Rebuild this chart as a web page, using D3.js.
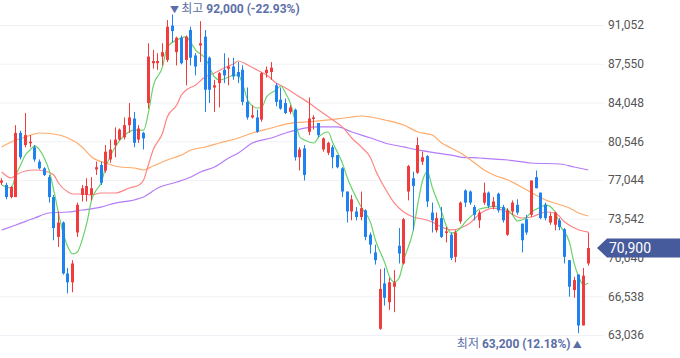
<!DOCTYPE html>
<html>
<head>
<meta charset="utf-8">
<script src="https://cdn.jsdelivr.net/npm/d3@7"></script>
<style>
  body { margin: 0; background: #fff; }
  svg { display: block; font-family: Roboto, "Noto Sans CJK KR", sans-serif; }
</style>
</head>
<body>
<div id="chart"></div>
<script>
// daily candles, oldest first
const opens = [76800,76600,75500,75500,81300,80200,80400,80000,78700,78100,
  77300,75500,71900,73200,68600,67800,72300,75700,75700,75700,
  78000,78400,77900,78900,80200,80700,80900,82000,82600,80700,
  81300,84000,87600,87600,88200,87900,91000,88600,89900,87900,
  90600,88300,89200,90000,88100,85400,85800,87000,87100,87300,
  86800,87000,84100,82700,82700,82500,86700,86800,85600,84300,
  84000,83200,83400,79100,79900,81400,82600,82200,79800,79500,
  80000,79300,78100,76000,74200,74200,73700,74300,72100,70500,
  63600,67700,66000,67400,71100,69500,76000,77200,77700,78700,
  79200,74100,72500,73600,72300,72100,70100,73300,76100,76000,
  74600,73400,75000,75900,74600,75800,74600,72100,74200,74800,
  73100,73500,73900,77300,75900,74800,73200,73000,73400,72600,
  69800,67100,68500,63900,69500];
const highs = [77200,76800,76500,82000,81500,83100,81100,80200,78900,78200,
  77500,75700,74200,73300,69100,69800,75000,76600,77200,77300,
  78700,78700,80200,80700,81800,81700,82700,84000,83200,82000,
  81400,89400,88800,88500,89400,91500,92000,90000,90100,90100,
  90900,88500,91400,90600,88200,86100,86800,88500,88100,88100,
  87700,87400,85400,83800,83400,86800,87300,87700,85800,85400,
  84400,83800,83500,80000,80200,84500,82900,82200,80900,80500,
  80200,79300,78200,76000,75700,74600,76000,74400,72300,71200,
  69000,69100,68200,68900,72700,73600,78400,77800,80900,79600,
  79300,75000,74100,74600,72800,72300,72500,75100,76200,76100,
  74800,74300,76800,76000,75500,75900,74800,74500,75200,75300,
  73100,73900,77000,77900,75900,75000,74100,74200,73600,72700,
  69800,68300,68500,69100,72300];
const lows = [76600,75300,75400,75500,78900,80000,80000,78700,78000,77400,
  75000,71600,71000,68500,66800,66900,71900,75100,75100,75200,
  77500,76600,77700,78600,79100,80600,80700,81300,80000,80400,
  79800,83500,87100,87000,87400,87700,89500,87400,87500,85600,
  87400,86500,87700,83200,84000,83200,83600,85800,85600,86100,
  85800,83800,82500,82600,81300,82300,86300,86100,83700,83400,
  83000,83000,78800,77900,77000,81100,81600,80900,79600,79300,
  78100,78100,75500,73200,73400,73400,73400,71600,70400,69400,
  63500,65700,65300,65100,69500,69400,75200,72500,77600,78400,
  74600,72300,72300,71800,71400,69800,69600,73100,74600,74800,
  73400,72700,74800,74500,74400,74100,73200,72000,73900,73900,
  70500,72100,73700,76300,73500,73400,73000,72500,72500,69500,
  66500,66400,63200,63900,69300];
const closes = [77000,75500,76400,81300,79100,81100,80500,78900,78100,77500,
  75500,72700,73200,68600,67800,69500,74800,76300,76500,76300,
  78200,76800,79600,79800,80700,81600,82000,82700,80400,81700,
  80800,88200,87800,87800,88600,90900,90500,89900,87600,90000,
  88100,87300,89400,85200,85200,85600,86700,86500,87300,86400,
  86400,84100,82700,82900,81400,86700,87000,87200,84100,83500,
  83100,83600,79100,79800,77500,82600,82700,81100,80800,80400,
  79100,78200,76000,74200,75300,73700,74500,71900,71200,69800,
  67200,66400,67800,67800,70400,73500,78300,76500,80200,79100,
  75100,73400,73600,71900,72400,70000,72300,75000,75000,75000,
  73900,74100,75900,74700,75100,74300,73400,74300,75000,74100,
  71600,72300,77000,76300,73600,73600,73800,74100,72800,70100,
  67400,68000,63900,68400,70900];

// moving averages: [candle index, price]
const ma5 = [[0,76600],[1,76410],[2,76320],[3,77500],[4,78400],[5,79300],[6,79760],[7,80120],
  [8,79760],[9,79030],[10,77950],[11,76140],[12,74060],[13,72250],[14,70990],[15,70360],
  [16,70540],[17,71620],[18,73160],[19,75240],[20,76140],[21,76770],[22,78220],[24,80030],
  [26,81110],[28,81560],[30,81560],[31,83100],[32,85450],[34,87260],[35,89060],[37,89700],
  [39,89970],[40,89430],[41,88790],[43,88070],[45,86350],[46,86080],[48,86350],[49,86530],
  [50,86530],[51,85630],[52,84270],[54,83550],[55,83640],[56,84550],[58,85180],[59,85540],
  [60,84910],[61,84000],[62,82470],[63,80930],[64,80660],[66,80390],[67,80930],[69,81380],
  [70,80390],[72,78580],[73,77320],[76,74600],[78,73160],[79,71620],[81,69540],[82,68280],
  [83,67830],[84,68190],[85,69810],[87,72520],[88,74960],[89,77040],[90,77770],[91,76410],
  [93,74150],[94,72890],[95,72250],[97,72710],[98,73250],[100,74060],[101,74420],[103,74600],
  [104,74690],[105,74600],[107,74330],[108,73880],[109,73340],[111,73700],[112,74150],
  [114,74600],[115,74790],[117,74150],[118,72980],[120,71440],[121,69540],[122,68280],
  [123,67550],[124,67730]];
const ma20 = [[0,77770],[2,77230],[3,77500],[5,77860],[7,77950],[9,77860],[11,77500],[12,76770],
  [14,75960],[15,75780],[17,75780],[19,75690],[21,75870],[24,75870],[27,76320],[29,76590],
  [30,77040],[31,78400],[32,79750],[34,81290],[35,82740],[37,83820],[38,84730],[39,85180],
  [41,85630],[43,86350],[45,86710],[47,87170],[49,87530],[50,87800],[52,87440],[54,86990],
  [56,86530],[58,85810],[60,85360],[63,84540],[65,84000],[67,83370],[70,82470],[72,81840],
  [74,80840],[76,80030],[78,79030],[79,77950],[81,76320],[83,74960],[85,74150],[87,73700],
  [89,73520],[91,73250],[93,72800],[95,72530],[97,72710],[99,73160],[101,73970],[104,74510],
  [107,74150],[110,73610],[112,73700],[115,74150],[117,74060],[119,73250],[122,72530],[124,72340]];
const ma60 = [[0,80030],[2,80480],[5,80930],[8,81290],[11,81200],[14,80840],[17,80030],[19,79120],
  [22,78580],[25,78220],[28,78130],[30,77950],[32,78310],[35,78850],[38,79300],[40,79750],
  [43,80030],[46,80390],[50,80840],[53,81290],[57,81740],[60,82100],[64,82280],[67,82380],
  [71,82560],[74,82740],[76,82830],[78,82740],[81,82470],[85,82010],[88,81380],[91,81110],
  [93,80390],[95,79940],[97,79480],[100,78580],[102,77950],[104,77500],[107,77040],[111,76140],
  [115,75240],[120,74510],[122,74060],[124,73790]];
const ma120 = [[0,72520],[3,72980],[7,73610],[10,74060],[14,74150],[17,74330],[21,74600],[24,74960],
  [28,75240],[30,75510],[33,76320],[37,76860],[40,77320],[42,77770],[45,78220],[48,79030],
  [50,79480],[53,80390],[57,80840],[60,81290],[64,81740],[67,81840],[71,81840],[74,81380],
  [78,80840],[81,80390],[85,80030],[88,79760],[92,79480],[95,79300],[97,79120],[101,79030],
  [107,78850],[112,78580],[118,78490],[121,78220],[124,77950]];

const yTicks = [63036, 66538, 70040, 73542, 77044, 80546, 84048, 87550, 91052];
const lastPrice = 70900;
const highLabel = ["최고", "92,000", "(-22.93%)"];
const lowLabel = ["최저", "63,200", "(12.18%)"];

const W = 680, H = 358, plotRight = 604;
const upColor = "#f03c3c", downColor = "#1e82f0";

const svg = d3.select("#chart").append("svg")
  .attr("width", W)
  .attr("height", H);

const x = d3.scaleLinear().domain([0, closes.length - 1]).range([1.7, 588.3]);
const y = d3.scaleLinear().domain([63036, 91052]).range([335, 25]);

// grid
const grid = svg.append("g")
  .attr("transform", "translate(" + plotRight + ",0)")
  .call(d3.axisRight(y).tickValues(yTicks).tickSize(-plotRight).tickFormat(""));
grid.select(".domain").remove();
grid.selectAll("line").attr("stroke", "#f1f2f7");

// y labels
const yAxis = svg.append("g")
  .attr("transform", "translate(" + plotRight + ",0)")
  .call(d3.axisRight(y).tickValues(yTicks).tickSize(0).tickPadding(4).tickFormat(d3.format(",")));
yAxis.select(".domain").remove();
yAxis.selectAll("text")
  .attr("fill", "#555")
  .style("font-size", "12px")
  .style("font-family", "Roboto, sans-serif");

// moving averages
const line = d3.line()
  .x(d => x(d[0]))
  .y(d => y(d[1]))
  .curve(d3.curveMonotoneX);

[[ma120, "#b57cf7"], [ma60, "#ffab6b"], [ma20, "#ff8585"], [ma5, "#6cd26c"]].forEach(([data, col]) => {
  svg.append("path")
    .datum(data)
    .attr("d", line)
    .attr("fill", "none")
    .attr("stroke", col)
    .attr("stroke-width", 1.2);
});

// candles
const candles = svg.append("g").selectAll("g")
  .data(closes.map((c, i) => ({ i: i, o: opens[i], h: highs[i], l: lows[i], c: c })))
  .join("g")
  .attr("fill", d => d.c >= d.o ? upColor : downColor)
  .attr("stroke", d => d.c >= d.o ? upColor : downColor);

candles.append("line")
  .attr("x1", d => Math.round(x(d.i) - 1.5) + 1.5)
  .attr("x2", d => Math.round(x(d.i) - 1.5) + 1.5)
  .attr("y1", d => y(d.h))
  .attr("y2", d => y(d.l))
  .attr("stroke-width", 1);

candles.append("rect")
  .attr("stroke", "none")
  .attr("x", d => Math.round(x(d.i) - 1.5))
  .attr("width", 3)
  .attr("y", d => y(Math.max(d.o, d.c)))
  .attr("height", d => Math.max(1.5, Math.abs(y(d.o) - y(d.c))));

// high / low markers
const hiIdx = highs.indexOf(d3.max(highs));
const loIdx = lows.indexOf(d3.min(lows));

const hi = svg.append("text")
  .attr("x", x(hiIdx) - 2)
  .attr("y", 13)
  .attr("fill", "#5b6ea8")
  .style("font-size", "12px");
hi.append("tspan").text("▼ ").style("font-size", "9px");
hi.append("tspan").text(highLabel[0] + " ");
hi.append("tspan").text(highLabel[1] + " " + highLabel[2]).attr("font-weight", "bold");

const lo = svg.append("text")
  .attr("x", x(loIdx) + 3)
  .attr("y", 348)
  .attr("text-anchor", "end")
  .attr("fill", "#5b6ea8")
  .style("font-size", "12px");
lo.append("tspan").text(lowLabel[0] + " ");
lo.append("tspan").text(lowLabel[1] + " " + lowLabel[2]).attr("font-weight", "bold");
lo.append("tspan").text(" ▲").style("font-size", "9px");

// last price tag
const ty = y(lastPrice);
svg.append("path")
  .attr("d", "M597," + ty + "L607," + (ty - 9.5) + "H680V" + (ty + 9.5) + "H607Z")
  .attr("fill", "#465b9c");
svg.append("text")
  .attr("x", 609)
  .attr("y", ty)
  .attr("dy", "0.36em")
  .attr("fill", "#fff")
  .style("font-size", "14px")
  .text(d3.format(",")(lastPrice));
</script>
</body>
</html>
